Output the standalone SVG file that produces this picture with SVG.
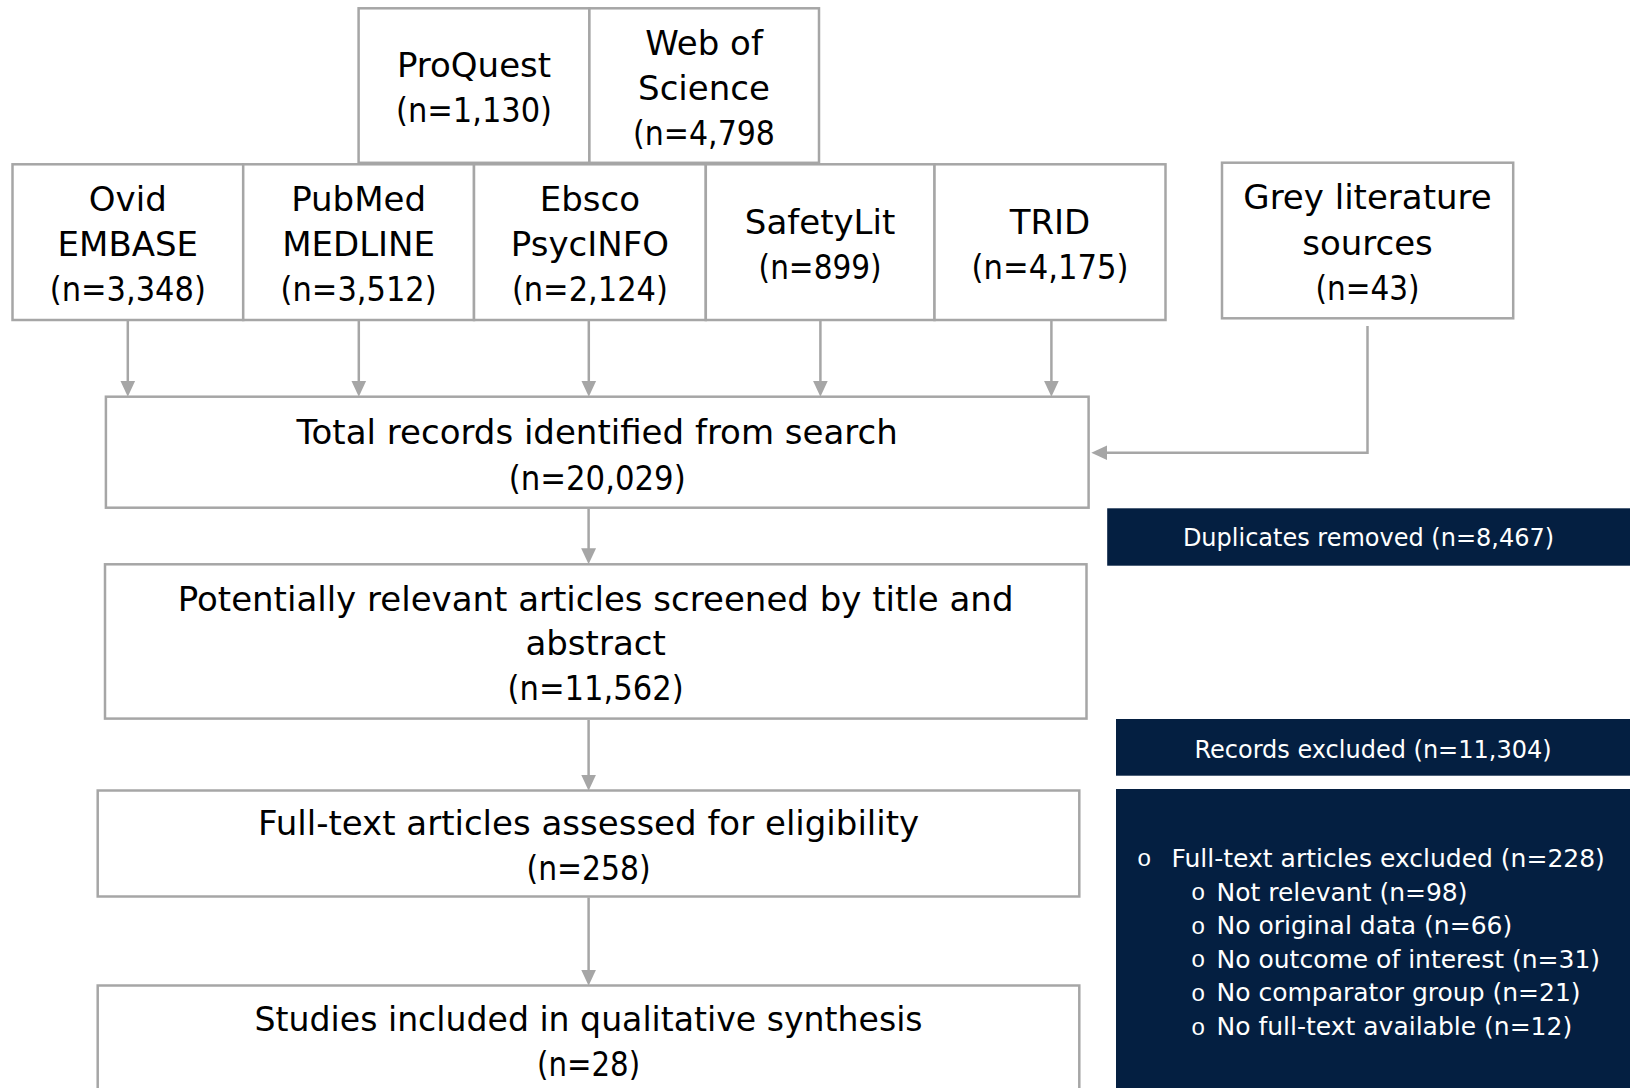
<svg xmlns="http://www.w3.org/2000/svg" width="1630" height="1088" viewBox="0 0 1630 1088">
<style>
.box{fill:#FFFFFF;stroke:#A6A6A6;stroke-width:2.5}
.dark{fill:#041F41;stroke:none}
.t{font-family:"DejaVu Sans",Verdana,sans-serif;font-size:34px;fill:#000000;text-anchor:middle}
.w{font-family:"DejaVu Sans",Verdana,sans-serif;font-size:24px;fill:#FFFFFF;text-anchor:middle}
.l{font-family:"DejaVu Sans",Verdana,sans-serif;font-size:25px;fill:#FFFFFF}
.b{font-family:"Liberation Mono","Courier New",monospace;font-size:24px;fill:#FFFFFF}
.c{fill:none;stroke:#A6A6A6;stroke-width:2.5;marker-end:url(#ah)}
</style>
<defs>
<marker id="ah" markerUnits="userSpaceOnUse" markerWidth="16" markerHeight="16" viewBox="0 0 15 14" refX="5" refY="7" orient="auto">
<path d="M0,0 L15,7 L0,14 Z" fill="#A6A6A6"/>
</marker>
</defs>
<rect width="1630" height="1088" fill="#FFFFFF"/>

<g id="connectors">
<path class="c" d="M127.8,321 V386"/>
<path class="c" d="M358.8,321 V386"/>
<path class="c" d="M588.8,321 V386"/>
<path class="c" d="M820.4,321 V386"/>
<path class="c" d="M1051.4,321 V386"/>
<path class="c" d="M1367.5,326 V452.7 H1102"/>
<path class="c" d="M588.6,509 V553.5"/>
<path class="c" d="M588.6,720 V780"/>
<path class="c" d="M588.6,897.5 V975"/>
</g>

<g id="proquest">
<rect class="box" x="358.6" y="8.3" width="230.8" height="154.5"/>
<text class="t" x="474" y="77">ProQuest</text>
<text class="t" x="474" y="121.5" textLength="156" lengthAdjust="spacingAndGlyphs">(n=1,130)</text>
</g>
<g id="webofscience">
<rect class="box" x="589.4" y="8.3" width="229.6" height="154.5"/>
<text class="t" x="704" y="55">Web of</text>
<text class="t" x="704" y="100">Science</text>
<text class="t" x="704" y="144.5" textLength="142" lengthAdjust="spacingAndGlyphs">(n=4,798</text>
</g>

<g id="ovid">
<rect class="box" x="12.5" y="164.3" width="230.7" height="155.7"/>
<text class="t" x="127.8" y="211">Ovid</text>
<text class="t" x="127.8" y="255.7">EMBASE</text>
<text class="t" x="127.8" y="300.5" textLength="156" lengthAdjust="spacingAndGlyphs">(n=3,348)</text>
</g>
<g id="pubmed">
<rect class="box" x="243.2" y="164.3" width="230.8" height="155.7"/>
<text class="t" x="358.6" y="211">PubMed</text>
<text class="t" x="358.6" y="255.7">MEDLINE</text>
<text class="t" x="358.6" y="300.5" textLength="156" lengthAdjust="spacingAndGlyphs">(n=3,512)</text>
</g>
<g id="ebsco">
<rect class="box" x="474" y="164.3" width="231.8" height="155.7"/>
<text class="t" x="589.9" y="211">Ebsco</text>
<text class="t" x="589.9" y="255.7">PsycINFO</text>
<text class="t" x="589.9" y="300.5" textLength="156" lengthAdjust="spacingAndGlyphs">(n=2,124)</text>
</g>
<g id="safetylit">
<rect class="box" x="705.8" y="164.3" width="228.7" height="155.7"/>
<text class="t" x="820.1" y="234">SafetyLit</text>
<text class="t" x="820.1" y="278.5" textLength="123" lengthAdjust="spacingAndGlyphs">(n=899)</text>
</g>
<g id="trid">
<rect class="box" x="934.5" y="164.3" width="231" height="155.7"/>
<text class="t" x="1050" y="234">TRID</text>
<text class="t" x="1050" y="278.5" textLength="157" lengthAdjust="spacingAndGlyphs">(n=4,175)</text>
</g>

<g id="grey">
<rect class="box" x="1222" y="162.7" width="291.2" height="155.6"/>
<text class="t" x="1367.5" y="209">Grey literature</text>
<text class="t" x="1367.5" y="254.7">sources</text>
<text class="t" x="1367.5" y="299.5" textLength="104" lengthAdjust="spacingAndGlyphs">(n=43)</text>
</g>

<g id="total">
<rect class="box" x="105.9" y="396.7" width="982.7" height="111"/>
<text class="t" x="597.2" y="444">Total records identified from search</text>
<text class="t" x="597.2" y="489.5" textLength="177" lengthAdjust="spacingAndGlyphs">(n=20,029)</text>
</g>

<g id="duplicates">
<rect class="dark" x="1107.2" y="508.3" width="522.8" height="57.4"/>
<text class="w" x="1368.5" y="546">Duplicates removed (n=8,467)</text>
</g>

<g id="screening">
<rect class="box" x="105" y="564.3" width="981.5" height="154.3"/>
<text class="t" x="595.6" y="611.3">Potentially relevant articles screened by title and</text>
<text class="t" x="595.6" y="655">abstract</text>
<text class="t" x="595.6" y="699.6" textLength="176" lengthAdjust="spacingAndGlyphs">(n=11,562)</text>
</g>

<g id="records-excluded">
<rect class="dark" x="1116" y="719" width="514" height="56.7"/>
<text class="w" x="1373" y="758">Records excluded (n=11,304)</text>
</g>

<g id="fulltext">
<rect class="box" x="97.7" y="790.5" width="981.6" height="106"/>
<text class="t" x="588.6" y="835">Full-text articles assessed for eligibility</text>
<text class="t" x="588.6" y="879.5" textLength="124" lengthAdjust="spacingAndGlyphs">(n=258)</text>
</g>

<g id="fulltext-excluded">
<rect class="dark" x="1116" y="789" width="514" height="300"/>
<text class="b" x="1137" y="866">o</text>
<text class="l" x="1171.5" y="867">Full-text articles excluded (n=228)</text>
<text class="b" x="1191" y="900">o</text>
<text class="l" x="1216.5" y="900.5">Not relevant (n=98)</text>
<text class="b" x="1191" y="933.5">o</text>
<text class="l" x="1216.5" y="934">No original data (n=66)</text>
<text class="b" x="1191" y="967">o</text>
<text class="l" x="1216.5" y="967.5">No outcome of interest (n=31)</text>
<text class="b" x="1191" y="1000.5">o</text>
<text class="l" x="1216.5" y="1001">No comparator group (n=21)</text>
<text class="b" x="1191" y="1034.5">o</text>
<text class="l" x="1216.5" y="1035">No full-text available (n=12)</text>
</g>

<g id="studies">
<rect class="box" x="97.7" y="985.5" width="981.6" height="110"/>
<text class="t" x="588.6" y="1031" textLength="668" lengthAdjust="spacingAndGlyphs">Studies included in qualitative synthesis</text>
<text class="t" x="588.6" y="1076" textLength="103" lengthAdjust="spacingAndGlyphs">(n=28)</text>
</g>
</svg>
